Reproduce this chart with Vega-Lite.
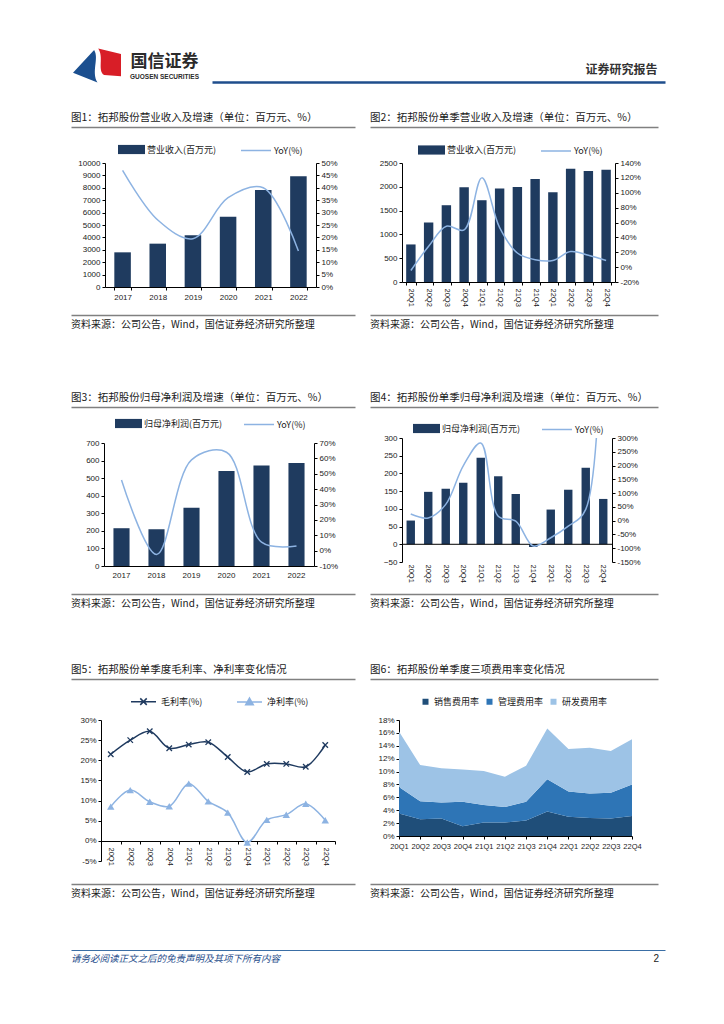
{
 "$schema": "https://vega.github.io/schema/vega-lite/v6.json",
 "padding": {"left": 68, "top": 48, "right": 10, "bottom": 10},
 "background": "white",
 "bounds": "flush",
 "spacing": 0,
 "resolve": {"scale": {"fill": "independent", "stroke": "independent", "color": "independent"}, "legend": {"fill": "independent", "stroke": "independent", "color": "independent"}},
 "config": {
  "view": {"stroke": null},
  "axis": {"domainColor": "#000000", "domainWidth": 1, "tickColor": "#000000", "tickSize": 3, "labelFont": "Liberation Sans", "labelFontSize": 8, "labelColor": "#1a1a1a", "labelPadding": 2, "grid": false},
  "legend": {"labelFont": "Noto Sans CJK SC", "labelFontSize": 9, "labelColor": "#1a1a1a", "padding": 0, "offset": 0},
  "title": {"font": "Noto Sans CJK SC", "fontWeight": "normal", "color": "#1a1a1a"},
  "text": {"font": "Noto Sans CJK SC"}
 },
 "vconcat": [
  {"hconcat": [
    {"width": 52, "height": 33, "data": {"values": [{}]}, "layer": [
      {"mark": {"type": "point", "shape": "M-1,0.3L-0.12,-0.65C0.1,-0.3,-0.25,0.25,0.02,0.71Z", "size": 2304, "filled": true, "fill": "#1b4f8f", "strokeWidth": 0, "opacity": 1}},
      {"mark": {"type": "point", "shape": "M0.05,-0.71L1,-0.48L1,0.45L0.3,0.4C0,0.2,0.3,-0.35,0.05,-0.71Z", "size": 2304, "filled": true, "fill": "#d81e27", "strokeWidth": 0, "opacity": 1}}
    ]},
    {"width": 89, "height": 33, "data": {"values": [{}]}, "layer": [
      {"mark": {"type": "text", "text": "国信证券", "fontSize": 17, "fontWeight": "bold", "dx": -3, "dy": -4, "color": "#2b2b2b"}},
      {"mark": {"type": "text", "text": "GUOSEN SECURITIES", "fontSize": 6.5, "dx": -3, "dy": 11, "color": "#2b2b2b", "font": "Liberation Sans", "fontWeight": "bold"}}
    ]},
    {"width": 453, "height": 33, "layer": [
      {"data": {"values": [{"v": 0}, {"v": 1}]}, "mark": {"type": "point", "opacity": 0}, "encoding": {"x": {"field": "v", "type": "quantitative", "scale": {"domain": [0, 1], "nice": false}, "axis": {"orient": "bottom", "domainColor": "#1f4e8c", "domainWidth": 2.5, "labels": false, "ticks": false, "title": null}}}},
      {"data": {"values": [{}]}, "mark": {"type": "text", "text": "证券研究报告", "align": "right", "dx": 219, "dy": 4, "fontSize": 12, "fontWeight": "bold", "color": "#333333"}}
    ]}
  ], "spacing": 0, "bounds": "flush"},
  {"width": 1, "height": 78, "data": {"values": [{}]}, "mark": {"type": "point", "opacity": 0}},
  {"hconcat": [
    {"width": 284, "height": 36, "data": {"values": [{"v": 0}, {"v": 1}]}, "mark": {"type": "point", "opacity": 0},
     "encoding": {"x": {"field": "v", "type": "quantitative", "scale": {"domain": [0, 1], "nice": false}, "axis": {"orient": "top", "domainColor": "#808080", "domainWidth": 1.5, "labels": false, "ticks": false, "title": null}}},
     "title": {"text": "图1：拓邦股份营业收入及增速（单位：百万元、%）", "anchor": "start", "frame": "group", "orient": "top", "offset": 4, "fontSize": 10.5}},
    {"width": 288, "height": 36, "data": {"values": [{"v": 0}, {"v": 1}]}, "mark": {"type": "point", "opacity": 0},
     "encoding": {"x": {"field": "v", "type": "quantitative", "scale": {"domain": [0, 1], "nice": false}, "axis": {"orient": "top", "domainColor": "#808080", "domainWidth": 1.5, "labels": false, "ticks": false, "title": null}}},
     "title": {"text": "图2：拓邦股份单季营业收入及增速（单位：百万元、%）", "anchor": "start", "frame": "group", "orient": "top", "offset": 4, "fontSize": 10.5}}
  ], "spacing": 15, "bounds": "flush"},
  {"width": 1, "height": 36, "data": {"values": [{}]}, "mark": {"type": "point", "opacity": 0}},
  {"hconcat": [
    {"width": 34, "height": 1, "data": {"values": [{}]}, "mark": {"type": "point", "opacity": 0}},
    {"width": 211, "height": 124,
     "data": {"values": [
      {"year": "2017", "rev": 2796, "yoy": 47},
      {"year": "2018", "rev": 3495, "yoy": 27},
      {"year": "2019", "rev": 4167, "yoy": 19.5},
      {"year": "2020", "rev": 5672, "yoy": 36},
      {"year": "2021", "rev": 7823, "yoy": 40},
      {"year": "2022", "rev": 8925, "yoy": 14.5}
     ]},
     "layer": [
      {"mark": {"type": "bar"}, "encoding": {
        "x": {"field": "year", "type": "ordinal", "scale": {"paddingInner": 0.53, "paddingOuter": 0.265}, "axis": {"labelAngle": 0, "tickBand": "extent", "title": null, "labelPadding": 3}},
        "y": {"field": "rev", "type": "quantitative", "scale": {"domain": [0, 10000], "nice": false}, "axis": {"values": [0, 1000, 2000, 3000, 4000, 5000, 6000, 7000, 8000, 9000, 10000], "format": "d", "title": null}},
        "fill": {"datum": "营业收入(百万元)", "type": "nominal", "scale": {"range": ["#1f3b5f"]}, "legend": {"orient": "none", "legendX": 13, "legendY": -27, "title": null, "symbolType": "M-1,-0.34H1V0.34H-1Z", "symbolSize": 729, "symbolStrokeWidth": 0, "labelOffset": 2}}
      }},
      {"mark": {"type": "line", "interpolate": "catmull-rom", "strokeWidth": 1.5}, "encoding": {
        "x": {"field": "year", "type": "ordinal", "bandPosition": 0.5},
        "y": {"field": "yoy", "type": "quantitative", "scale": {"domain": [0, 50], "nice": false}, "axis": {"orient": "right", "values": [0, 5, 10, 15, 20, 25, 30, 35, 40, 45, 50], "labelExpr": "datum.value + '%'", "title": null}},
        "stroke": {"datum": "YoY(%)", "type": "nominal", "scale": {"range": ["#8db3e2"]}, "legend": {"orient": "none", "legendX": 135, "legendY": -28.5, "title": null, "symbolType": "stroke", "symbolSize": 900, "symbolStrokeWidth": 1.5, "labelOffset": 2}}
      }}
     ],
     "resolve": {"scale": {"y": "independent"}}},
    {"width": 86, "height": 1, "data": {"values": [{}]}, "mark": {"type": "point", "opacity": 0}},
    {"width": 213, "height": 119,
     "data": {"values": [
      {"q": "20Q1", "rev": 789, "yoy": -4.5},
      {"q": "20Q2", "rev": 1250, "yoy": 28},
      {"q": "20Q3", "rev": 1613, "yoy": 55},
      {"q": "20Q4", "rev": 1990, "yoy": 50},
      {"q": "21Q1", "rev": 1718, "yoy": 120},
      {"q": "21Q2", "rev": 1962, "yoy": 53},
      {"q": "21Q3", "rev": 1997, "yoy": 19},
      {"q": "21Q4", "rev": 2165, "yoy": 10},
      {"q": "22Q1", "rev": 1885, "yoy": 9},
      {"q": "22Q2", "rev": 2381, "yoy": 21},
      {"q": "22Q3", "rev": 2332, "yoy": 16},
      {"q": "22Q4", "rev": 2360, "yoy": 9}
     ]},
     "layer": [
      {"mark": {"type": "bar"}, "encoding": {
        "x": {"field": "q", "type": "ordinal", "scale": {"paddingInner": 0.47, "paddingOuter": 0.235}, "axis": {"labelAngle": 90, "tickBand": "extent", "title": null, "labelPadding": 3, "labelFontSize": 7.5}},
        "y": {"field": "rev", "type": "quantitative", "scale": {"domain": [0, 2500], "nice": false}, "axis": {"values": [0, 500, 1000, 1500, 2000, 2500], "format": "d", "title": null}},
        "fill": {"datum": "营业收入(百万元)", "type": "nominal", "scale": {"range": ["#1f3b5f"]}, "legend": {"orient": "none", "legendX": 16, "legendY": -26.5, "title": null, "symbolType": "M-1,-0.34H1V0.34H-1Z", "symbolSize": 729, "symbolStrokeWidth": 0, "labelOffset": 2}}
      }},
      {"mark": {"type": "line", "interpolate": "catmull-rom", "strokeWidth": 1.5}, "encoding": {
        "x": {"field": "q", "type": "ordinal", "bandPosition": 0.5},
        "y": {"field": "yoy", "type": "quantitative", "scale": {"domain": [-20, 140], "nice": false}, "axis": {"orient": "right", "values": [-20, 0, 20, 40, 60, 80, 100, 120, 140], "labelExpr": "datum.value + '%'", "title": null}},
        "stroke": {"datum": "YoY(%)", "type": "nominal", "scale": {"range": ["#8db3e2"]}, "legend": {"orient": "none", "legendX": 138, "legendY": -28, "title": null, "symbolType": "stroke", "symbolSize": 900, "symbolStrokeWidth": 1.5, "labelOffset": 2}}
      }}
     ],
     "resolve": {"scale": {"y": "independent"}}}
  ], "spacing": 0, "bounds": "flush", "resolve": {"scale": {"fill": "independent", "stroke": "independent"}, "legend": {"fill": "independent", "stroke": "independent"}}},
  {"width": 1, "height": 152, "data": {"values": [{}]}, "mark": {"type": "point", "opacity": 0}},
  {"hconcat": [
    {"width": 284, "height": 3, "data": {"values": [{"v": 0}, {"v": 1}]}, "mark": {"type": "point", "opacity": 0},
     "encoding": {"x": {"field": "v", "type": "quantitative", "scale": {"domain": [0, 1], "nice": false}, "axis": {"orient": "top", "domainColor": "#808080", "domainWidth": 1.5, "labels": false, "ticks": false, "title": null}}},
     "title": {"text": "资料来源：公司公告，Wind，国信证券经济研究所整理", "anchor": "start", "frame": "group", "orient": "bottom", "offset": 1, "fontSize": 10}},
    {"width": 288, "height": 3, "data": {"values": [{"v": 0}, {"v": 1}]}, "mark": {"type": "point", "opacity": 0},
     "encoding": {"x": {"field": "v", "type": "quantitative", "scale": {"domain": [0, 1], "nice": false}, "axis": {"orient": "top", "domainColor": "#808080", "domainWidth": 1.5, "labels": false, "ticks": false, "title": null}}},
     "title": {"text": "资料来源：公司公告，Wind，国信证券经济研究所整理", "anchor": "start", "frame": "group", "orient": "bottom", "offset": 1, "fontSize": 10}}
  ], "spacing": 15, "bounds": "flush"},
  {"width": 1, "height": 92, "data": {"values": [{}]}, "mark": {"type": "point", "opacity": 0}},
  {"hconcat": [
    {"width": 284, "height": 31, "data": {"values": [{"v": 0}, {"v": 1}]}, "mark": {"type": "point", "opacity": 0},
     "encoding": {"x": {"field": "v", "type": "quantitative", "scale": {"domain": [0, 1], "nice": false}, "axis": {"orient": "top", "domainColor": "#808080", "domainWidth": 1.5, "labels": false, "ticks": false, "title": null}}},
     "title": {"text": "图3：拓邦股份归母净利润及增速（单位：百万元、%）", "anchor": "start", "frame": "group", "orient": "top", "offset": 4, "fontSize": 10.5}},
    {"width": 288, "height": 31, "data": {"values": [{"v": 0}, {"v": 1}]}, "mark": {"type": "point", "opacity": 0},
     "encoding": {"x": {"field": "v", "type": "quantitative", "scale": {"domain": [0, 1], "nice": false}, "axis": {"orient": "top", "domainColor": "#808080", "domainWidth": 1.5, "labels": false, "ticks": false, "title": null}}},
     "title": {"text": "图4：拓邦股份单季归母净利润及增速（单位：百万元、%）", "anchor": "start", "frame": "group", "orient": "top", "offset": 4, "fontSize": 10.5}}
  ], "spacing": 15, "bounds": "flush"},
  {"width": 1, "height": 31, "data": {"values": [{}]}, "mark": {"type": "point", "opacity": 0}},
  {"hconcat": [
    {"width": 33, "height": 1, "data": {"values": [{}]}, "mark": {"type": "point", "opacity": 0}},
    {"vconcat": [
      {"width": 1, "height": 5, "data": {"values": [{}]}, "mark": {"type": "point", "opacity": 0}},
      {"width": 210, "height": 123,
       "data": {"values": [
        {"year": "2017", "np": 215, "yoy": 46},
        {"year": "2018", "np": 209, "yoy": -2.5},
        {"year": "2019", "np": 331, "yoy": 59},
        {"year": "2020", "np": 540, "yoy": 64},
        {"year": "2021", "np": 572, "yoy": 5.5},
        {"year": "2022", "np": 586, "yoy": 3}
       ]},
       "layer": [
        {"mark": {"type": "bar"}, "encoding": {
          "x": {"field": "year", "type": "ordinal", "scale": {"paddingInner": 0.54, "paddingOuter": 0.27}, "axis": {"labelAngle": 0, "ticks": false, "title": null, "labelPadding": 5}},
          "y": {"field": "np", "type": "quantitative", "scale": {"domain": [0, 700], "nice": false}, "axis": {"values": [0, 100, 200, 300, 400, 500, 600, 700], "title": null}},
          "fill": {"datum": "归母净利润(百万元)", "type": "nominal", "scale": {"range": ["#1f3b5f"]}, "legend": {"orient": "none", "legendX": 11, "legendY": -28, "title": null, "symbolType": "M-1,-0.34H1V0.34H-1Z", "symbolSize": 729, "symbolStrokeWidth": 0, "labelOffset": 2}}
        }},
        {"mark": {"type": "line", "interpolate": "catmull-rom", "strokeWidth": 1.5}, "encoding": {
          "x": {"field": "year", "type": "ordinal", "bandPosition": 0.5},
          "y": {"field": "yoy", "type": "quantitative", "scale": {"domain": [-10, 70], "nice": false}, "axis": {"orient": "right", "values": [-10, 0, 10, 20, 30, 40, 50, 60, 70], "labelExpr": "datum.value + '%'", "title": null}},
          "stroke": {"datum": "YoY(%)", "type": "nominal", "scale": {"range": ["#8db3e2"]}, "legend": {"orient": "none", "legendX": 139, "legendY": -29.5, "title": null, "symbolType": "stroke", "symbolSize": 900, "symbolStrokeWidth": 1.5, "labelOffset": 2}}
        }}
       ],
       "resolve": {"scale": {"y": "independent"}}}
    ], "spacing": 0, "bounds": "flush"},
    {"width": 298, "height": 1, "data": {"values": [{}]}, "mark": {"type": "point", "opacity": 0}},
    {"width": 210, "height": 124,
     "data": {"values": [
      {"q": "20Q1", "np": 67, "yoy": 24},
      {"q": "20Q2", "np": 148, "yoy": 10},
      {"q": "20Q3", "np": 157, "yoy": 59},
      {"q": "20Q4", "np": 174, "yoy": 199},
      {"q": "21Q1", "np": 244, "yoy": 282},
      {"q": "21Q2", "np": 192, "yoy": 16},
      {"q": "21Q3", "np": 142, "yoy": -2},
      {"q": "21Q4", "np": -7.5, "yoy": -92},
      {"q": "22Q1", "np": 98, "yoy": -62},
      {"q": "22Q2", "np": 154, "yoy": -20},
      {"q": "22Q3", "np": 216, "yoy": 41},
      {"q": "22Q4", "np": 128, "yoy": 1800}
     ]},
     "layer": [
      {"mark": {"type": "bar"}, "encoding": {
        "x": {"field": "q", "type": "ordinal", "scale": {"paddingInner": 0.52, "paddingOuter": 0.26}, "axis": {"labelAngle": 90, "domain": false, "ticks": false, "title": null, "labelPadding": 2, "labelFontSize": 7.5}},
        "y": {"field": "np", "type": "quantitative", "scale": {"domain": [-50, 300], "nice": false}, "axis": {"values": [-50, 0, 50, 100, 150, 200, 250, 300], "title": null}},
        "fill": {"datum": "归母净利润(百万元)", "type": "nominal", "scale": {"range": ["#1f3b5f"]}, "legend": {"orient": "none", "legendX": 11, "legendY": -23, "title": null, "symbolType": "M-1,-0.34H1V0.34H-1Z", "symbolSize": 729, "symbolStrokeWidth": 0, "labelOffset": 2}}
      }},
      {"data": {"values": [{}]}, "mark": {"type": "rule", "color": "#000000", "strokeWidth": 1}, "encoding": {
        "y": {"datum": 0, "type": "quantitative", "scale": {"domain": [-50, 300], "nice": false}, "axis": null}
      }},
      {"mark": {"type": "line", "interpolate": "catmull-rom", "strokeWidth": 1.5, "clip": true}, "encoding": {
        "x": {"field": "q", "type": "ordinal", "bandPosition": 0.5},
        "y": {"field": "yoy", "type": "quantitative", "scale": {"domain": [-150, 300], "nice": false}, "axis": {"orient": "right", "values": [-150, -100, -50, 0, 50, 100, 150, 200, 250, 300], "labelExpr": "datum.value + '%'", "title": null}},
        "stroke": {"datum": "YoY(%)", "type": "nominal", "scale": {"range": ["#8db3e2"]}, "legend": {"orient": "none", "legendX": 139, "legendY": -24.5, "title": null, "symbolType": "stroke", "symbolSize": 900, "symbolStrokeWidth": 1.5, "labelOffset": 2}}
      }}
     ],
     "resolve": {"scale": {"y": "independent"}}}
  ], "spacing": 0, "bounds": "flush", "resolve": {"scale": {"fill": "independent", "stroke": "independent"}, "legend": {"fill": "independent", "stroke": "independent"}}},
  {"width": 1, "height": 156, "data": {"values": [{}]}, "mark": {"type": "point", "opacity": 0}},
  {"hconcat": [
    {"width": 284, "height": 3, "data": {"values": [{"v": 0}, {"v": 1}]}, "mark": {"type": "point", "opacity": 0},
     "encoding": {"x": {"field": "v", "type": "quantitative", "scale": {"domain": [0, 1], "nice": false}, "axis": {"orient": "top", "domainColor": "#808080", "domainWidth": 1.5, "labels": false, "ticks": false, "title": null}}},
     "title": {"text": "资料来源：公司公告，Wind，国信证券经济研究所整理", "anchor": "start", "frame": "group", "orient": "bottom", "offset": 1, "fontSize": 10}},
    {"width": 288, "height": 3, "data": {"values": [{"v": 0}, {"v": 1}]}, "mark": {"type": "point", "opacity": 0},
     "encoding": {"x": {"field": "v", "type": "quantitative", "scale": {"domain": [0, 1], "nice": false}, "axis": {"orient": "top", "domainColor": "#808080", "domainWidth": 1.5, "labels": false, "ticks": false, "title": null}}},
     "title": {"text": "资料来源：公司公告，Wind，国信证券经济研究所整理", "anchor": "start", "frame": "group", "orient": "bottom", "offset": 1, "fontSize": 10}}
  ], "spacing": 15, "bounds": "flush"},
  {"width": 1, "height": 85, "data": {"values": [{}]}, "mark": {"type": "point", "opacity": 0}},
  {"hconcat": [
    {"width": 284, "height": 41, "data": {"values": [{"v": 0}, {"v": 1}]}, "mark": {"type": "point", "opacity": 0},
     "encoding": {"x": {"field": "v", "type": "quantitative", "scale": {"domain": [0, 1], "nice": false}, "axis": {"orient": "top", "domainColor": "#808080", "domainWidth": 1.5, "labels": false, "ticks": false, "title": null}}},
     "title": {"text": "图5：拓邦股份单季度毛利率、净利率变化情况", "anchor": "start", "frame": "group", "orient": "top", "offset": 4, "fontSize": 10.5}},
    {"width": 288, "height": 41, "data": {"values": [{"v": 0}, {"v": 1}]}, "mark": {"type": "point", "opacity": 0},
     "encoding": {"x": {"field": "v", "type": "quantitative", "scale": {"domain": [0, 1], "nice": false}, "axis": {"orient": "top", "domainColor": "#808080", "domainWidth": 1.5, "labels": false, "ticks": false, "title": null}}},
     "title": {"text": "图6：拓邦股份单季度三项费用率变化情况", "anchor": "start", "frame": "group", "orient": "top", "offset": 4, "fontSize": 10.5}}
  ], "spacing": 15, "bounds": "flush"},
  {"width": 1, "height": 41, "data": {"values": [{}]}, "mark": {"type": "point", "opacity": 0}},
  {"hconcat": [
    {"width": 30, "height": 1, "data": {"values": [{}]}, "mark": {"type": "point", "opacity": 0}},
    {"width": 234, "height": 141,
     "data": {"values": [
      {"q": "20Q1", "s": "毛利率(%)", "v": 21.5}, {"q": "20Q2", "s": "毛利率(%)", "v": 25.0}, {"q": "20Q3", "s": "毛利率(%)", "v": 27.2},
      {"q": "20Q4", "s": "毛利率(%)", "v": 23.0}, {"q": "21Q1", "s": "毛利率(%)", "v": 23.9}, {"q": "21Q2", "s": "毛利率(%)", "v": 24.5},
      {"q": "21Q3", "s": "毛利率(%)", "v": 20.8}, {"q": "21Q4", "s": "毛利率(%)", "v": 17.1}, {"q": "22Q1", "s": "毛利率(%)", "v": 19.1},
      {"q": "22Q2", "s": "毛利率(%)", "v": 19.1}, {"q": "22Q3", "s": "毛利率(%)", "v": 18.4}, {"q": "22Q4", "s": "毛利率(%)", "v": 23.8},
      {"q": "20Q1", "s": "净利率(%)", "v": 8.5}, {"q": "20Q2", "s": "净利率(%)", "v": 12.6}, {"q": "20Q3", "s": "净利率(%)", "v": 9.7},
      {"q": "20Q4", "s": "净利率(%)", "v": 8.6}, {"q": "21Q1", "s": "净利率(%)", "v": 14.2}, {"q": "21Q2", "s": "净利率(%)", "v": 9.8},
      {"q": "21Q3", "s": "净利率(%)", "v": 7.0}, {"q": "21Q4", "s": "净利率(%)", "v": -0.4}, {"q": "22Q1", "s": "净利率(%)", "v": 5.2},
      {"q": "22Q2", "s": "净利率(%)", "v": 6.5}, {"q": "22Q3", "s": "净利率(%)", "v": 9.2}, {"q": "22Q4", "s": "净利率(%)", "v": 5.1}
     ]},
     "encoding": {
      "x": {"field": "q", "type": "ordinal", "bandPosition": 0.5, "scale": {"paddingInner": 0, "paddingOuter": 0}, "axis": {"labelAngle": 90, "tickBand": "extent", "offset": -20, "title": null, "labelPadding": 3, "labelFontSize": 7.5}},
      "y": {"field": "v", "type": "quantitative", "scale": {"domain": [-5, 30], "nice": false}, "axis": {"values": [-5, 0, 5, 10, 15, 20, 25, 30], "labelExpr": "datum.value + '%'", "title": null}}
     },
     "layer": [
      {"mark": {"type": "line", "interpolate": "catmull-rom", "strokeWidth": 1.5}, "encoding": {
        "color": {"field": "s", "type": "nominal", "scale": {"domain": ["毛利率(%)", "净利率(%)"], "range": ["#1f3a5f", "#8db3e2"]},
          "legend": {"orient": "none", "legendX": 29, "legendY": -32, "direction": "horizontal", "title": null, "symbolType": "stroke", "symbolSize": 625, "symbolStrokeWidth": 1.5, "labelOffset": 4, "columnPadding": 31,
            "encode": {"symbols": {"update": {
              "shape": {"signal": "datum.value === '毛利率(%)' ? 'M-1,0H1M-0.26,-0.26L0.26,0.26M-0.26,0.26L0.26,-0.26' : 'M-1,0H1M0,-0.3L0.3,0.22L-0.3,0.22Z'"},
              "fill": {"signal": "datum.value === '毛利率(%)' ? 'transparent' : '#8db3e2'"},
              "stroke": {"signal": "datum.value === '毛利率(%)' ? '#1f3a5f' : '#8db3e2'"},
              "strokeWidth": {"value": 1.5}
            }}}}}
      }},
      {"transform": [{"filter": "datum.s === '毛利率(%)'"}], "mark": {"type": "point", "shape": "M-1,-1L1,1M-1,1L1,-1", "filled": false, "size": 30, "strokeWidth": 1.3, "color": "#1f3a5f", "opacity": 1}},
      {"transform": [{"filter": "datum.s === '净利率(%)'"}], "mark": {"type": "point", "shape": "triangle-up", "filled": true, "size": 55, "color": "#8db3e2", "opacity": 1}}
     ]},
    {"width": 64, "height": 1, "data": {"values": [{}]}, "mark": {"type": "point", "opacity": 0}},
    {"width": 233, "height": 116,
     "data": {"values": [
      {"q": "20Q1", "item": "销售费用率", "v": 3.5}, {"q": "20Q1", "item": "管理费用率", "v": 4.1}, {"q": "20Q1", "item": "研发费用率", "v": 8.6},
      {"q": "20Q2", "item": "销售费用率", "v": 2.6}, {"q": "20Q2", "item": "管理费用率", "v": 2.8}, {"q": "20Q2", "item": "研发费用率", "v": 5.6},
      {"q": "20Q3", "item": "销售费用率", "v": 2.7}, {"q": "20Q3", "item": "管理费用率", "v": 2.5}, {"q": "20Q3", "item": "研发费用率", "v": 5.3},
      {"q": "20Q4", "item": "销售费用率", "v": 1.5}, {"q": "20Q4", "item": "管理费用率", "v": 3.8}, {"q": "20Q4", "item": "研发费用率", "v": 5.0},
      {"q": "21Q1", "item": "销售费用率", "v": 2.1}, {"q": "21Q1", "item": "管理费用率", "v": 2.7}, {"q": "21Q1", "item": "研发费用率", "v": 5.3},
      {"q": "21Q2", "item": "销售费用率", "v": 2.1}, {"q": "21Q2", "item": "管理费用率", "v": 2.4}, {"q": "21Q2", "item": "研发费用率", "v": 4.7},
      {"q": "21Q3", "item": "销售费用率", "v": 2.4}, {"q": "21Q3", "item": "管理费用率", "v": 2.9}, {"q": "21Q3", "item": "研发费用率", "v": 5.6},
      {"q": "21Q4", "item": "销售费用率", "v": 3.8}, {"q": "21Q4", "item": "管理费用率", "v": 5.0}, {"q": "21Q4", "item": "研发费用率", "v": 7.9},
      {"q": "22Q1", "item": "销售费用率", "v": 3.0}, {"q": "22Q1", "item": "管理费用率", "v": 3.9}, {"q": "22Q1", "item": "研发费用率", "v": 6.6},
      {"q": "22Q2", "item": "销售费用率", "v": 2.8}, {"q": "22Q2", "item": "管理费用率", "v": 3.8}, {"q": "22Q2", "item": "研发费用率", "v": 7.1},
      {"q": "22Q3", "item": "销售费用率", "v": 2.7}, {"q": "22Q3", "item": "管理费用率", "v": 4.0}, {"q": "22Q3", "item": "研发费用率", "v": 6.5},
      {"q": "22Q4", "item": "销售费用率", "v": 3.1}, {"q": "22Q4", "item": "管理费用率", "v": 4.9}, {"q": "22Q4", "item": "研发费用率", "v": 7.0}
     ]},
     "mark": {"type": "area", "opacity": 1},
     "encoding": {
      "x": {"field": "q", "type": "ordinal", "scale": {"type": "point", "padding": 0}, "axis": {"labelAngle": 0, "title": null, "labelPadding": 3, "labelFontSize": 7.5}},
      "y": {"field": "v", "type": "quantitative", "stack": "zero", "scale": {"domain": [0, 18], "nice": false}, "axis": {"values": [0, 2, 4, 6, 8, 10, 12, 14, 16, 18], "labelExpr": "datum.value + '%'", "title": null}},
      "color": {"field": "item", "type": "nominal", "scale": {"domain": ["销售费用率", "管理费用率", "研发费用率"], "range": ["#1f4e79", "#2e75b6", "#9dc3e6"]},
        "legend": {"orient": "none", "legendX": 22, "legendY": -23, "direction": "horizontal", "title": null, "symbolType": "square", "symbolSize": 36, "symbolStrokeWidth": 0, "labelOffset": 4, "columnPadding": 5}},
      "order": {"field": "item", "sort": "descending"}
     }}
  ], "spacing": 0, "bounds": "flush", "resolve": {"scale": {"color": "independent"}, "legend": {"color": "independent"}}},
  {"width": 1, "height": 164, "data": {"values": [{}]}, "mark": {"type": "point", "opacity": 0}},
  {"hconcat": [
    {"width": 284, "height": 3, "data": {"values": [{"v": 0}, {"v": 1}]}, "mark": {"type": "point", "opacity": 0},
     "encoding": {"x": {"field": "v", "type": "quantitative", "scale": {"domain": [0, 1], "nice": false}, "axis": {"orient": "top", "domainColor": "#808080", "domainWidth": 1.5, "labels": false, "ticks": false, "title": null}}},
     "title": {"text": "资料来源：公司公告，Wind，国信证券经济研究所整理", "anchor": "start", "frame": "group", "orient": "bottom", "offset": 1, "fontSize": 10}},
    {"width": 288, "height": 3, "data": {"values": [{"v": 0}, {"v": 1}]}, "mark": {"type": "point", "opacity": 0},
     "encoding": {"x": {"field": "v", "type": "quantitative", "scale": {"domain": [0, 1], "nice": false}, "axis": {"orient": "top", "domainColor": "#808080", "domainWidth": 1.5, "labels": false, "ticks": false, "title": null}}},
     "title": {"text": "资料来源：公司公告，Wind，国信证券经济研究所整理", "anchor": "start", "frame": "group", "orient": "bottom", "offset": 1, "fontSize": 10}}
  ], "spacing": 15, "bounds": "flush"},
  {"width": 1, "height": 66, "data": {"values": [{}]}, "mark": {"type": "point", "opacity": 0}},
  {"width": 594, "height": 18, "layer": [
    {"data": {"values": [{"v": 0}, {"v": 1}]}, "mark": {"type": "point", "opacity": 0}, "encoding": {"x": {"field": "v", "type": "quantitative", "scale": {"domain": [0, 1], "nice": false}, "axis": {"orient": "top", "domainColor": "#3a6ea5", "domainWidth": 1, "labels": false, "ticks": false, "title": null}}}},
    {"data": {"values": [{}]}, "mark": {"type": "text", "text": "请务必阅读正文之后的免责声明及其项下所有内容", "align": "left", "dx": -297, "dy": 0, "fontSize": 9.5, "fontStyle": "italic", "color": "#1f4e8c"}},
    {"data": {"values": [{}]}, "mark": {"type": "text", "text": "2", "align": "right", "dx": 291, "dy": 0, "fontSize": 10, "color": "#222222", "font": "Liberation Sans"}}
  ]}
 ]
}
